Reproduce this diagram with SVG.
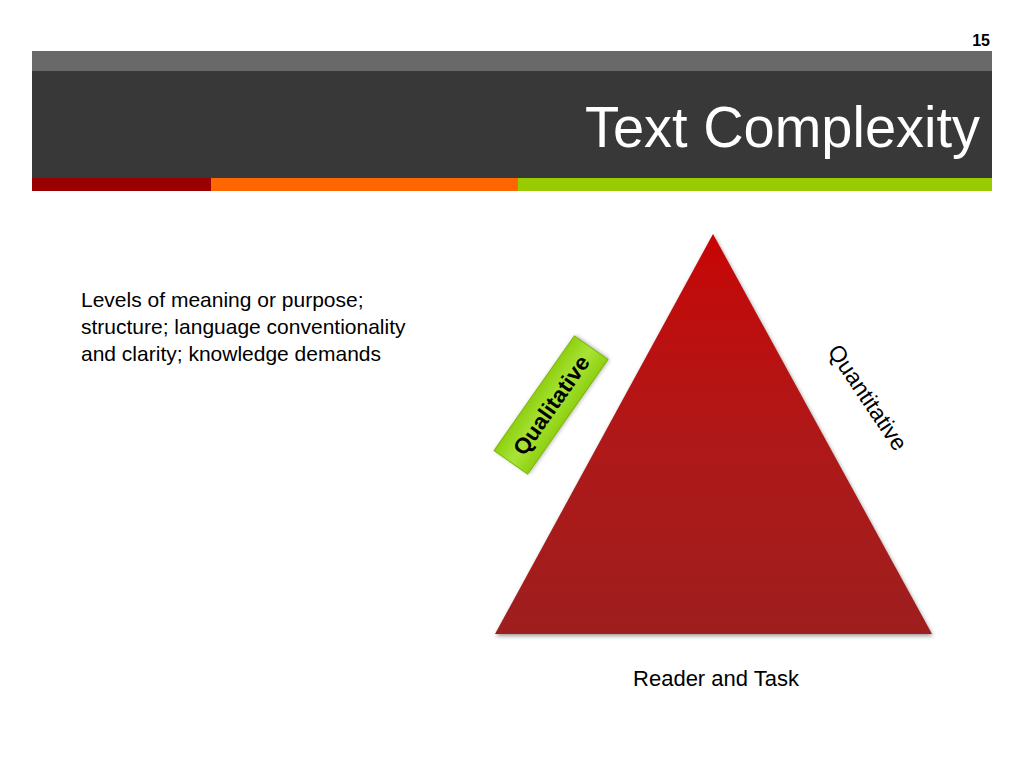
<svg xmlns="http://www.w3.org/2000/svg" width="1024" height="768" viewBox="0 0 1024 768">
<defs>
<style>
.body{font-family:"Liberation Sans",Arial,sans-serif;font-size:21px;fill:#000}
.title{font-family:"Liberation Sans",Arial,sans-serif;font-size:58px;fill:#fff}
</style>
<linearGradient id="tri" gradientUnits="userSpaceOnUse" x1="0" y1="234" x2="0" y2="634">
<stop offset="0" stop-color="#c80404"/>
<stop offset="0.15" stop-color="#c00c0c"/>
<stop offset="0.5" stop-color="#b01818"/>
<stop offset="1" stop-color="#9e1e1e"/>
</linearGradient>
<linearGradient id="grn" x1="0" y1="0" x2="0" y2="1">
<stop offset="0" stop-color="#8fd010"/>
<stop offset="0.5" stop-color="#a8e438"/>
<stop offset="1" stop-color="#8fd010"/>
</linearGradient>
<filter id="blur" x="-10%" y="-10%" width="120%" height="120%">
<feGaussianBlur stdDeviation="2"/>
</filter>
</defs>
<rect width="1024" height="768" fill="#fff"/>
<g id="header">
<text x="990" y="46" text-anchor="end" font-family="'Liberation Sans',Arial,sans-serif" font-size="16" font-weight="bold" fill="#000">15</text>
<rect x="32" y="51" width="960" height="20" fill="#696969"/>
<rect x="32" y="71" width="960" height="107" fill="#383838"/>
<rect x="32" y="178" width="179" height="13" fill="#990000"/>
<rect x="211" y="178" width="307" height="13" fill="#ff6600"/>
<rect x="518" y="178" width="474" height="13" fill="#99cc00"/>
<text class="title" x="980" y="147" text-anchor="end" textLength="395" lengthAdjust="spacingAndGlyphs">Text Complexity</text>
</g>
<g id="description">
<text class="body" x="81" y="307">Levels of meaning or purpose;</text>
<text class="body" x="81" y="334">structure; language conventionality</text>
<text class="body" x="81" y="361">and clarity; knowledge demands</text>
</g>
<g id="triangle">
<polygon points="714,236 496,636 933,636" fill="#000" opacity="0.4" filter="url(#blur)"/>
<polygon points="713,234 495,634 932,634" fill="url(#tri)"/>
</g>
<g id="qualitative" transform="translate(551,405) rotate(-55)">
<rect x="-69" y="-19.5" width="140" height="41" fill="#000" opacity="0.35" filter="url(#blur)"/>
<rect x="-70" y="-20.5" width="140" height="41" fill="url(#grn)" stroke="#7cb800" stroke-width="1"/>
<text x="0" y="8" text-anchor="middle" font-family="'Liberation Sans',Arial,sans-serif" font-size="22" font-weight="bold" fill="#000" textLength="116" lengthAdjust="spacingAndGlyphs">Qualitative</text>
</g>
<g id="quantitative" transform="translate(867,398) rotate(56)">
<text x="0" y="7" text-anchor="middle" font-family="'Liberation Sans',Arial,sans-serif" font-size="23" fill="#000" textLength="122" lengthAdjust="spacingAndGlyphs">Quantitative</text>
</g>
<g id="reader-task">
<text x="716" y="686" text-anchor="middle" font-family="'Liberation Sans',Arial,sans-serif" font-size="22" fill="#000">Reader and Task</text>
</g>
<g id="connectors"/>
</svg>
